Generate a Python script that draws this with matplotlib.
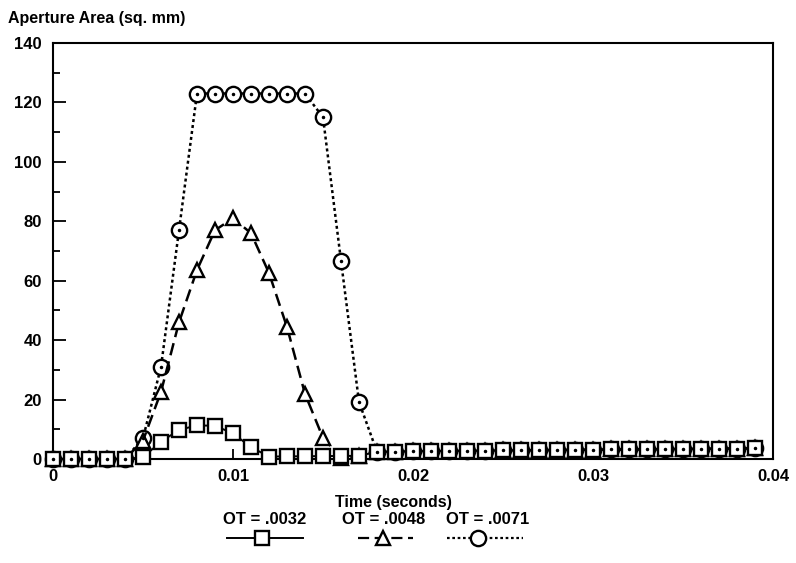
import numpy as np
import matplotlib
matplotlib.use("Agg")
import matplotlib.pyplot as plt
from matplotlib.lines import Line2D
from matplotlib.ticker import MultipleLocator

plt.rcParams['font.family'] = ['Liberation Sans', 'DejaVu Sans']
plt.rcParams['font.weight'] = 'bold'

# time in seconds, one sample per millisecond
time_s = [i / 1000 for i in range(40)]

# common tail (all three curves sit on top of each other after ~0.018 s)
tail = [2.4, 2.5, 2.6, 2.7, 2.7, 2.8, 2.8, 2.9, 2.9, 3.0, 3.0,
        3.1, 3.1, 3.2, 3.2, 3.3, 3.3, 3.4, 3.4, 3.5, 3.5, 3.6]

area_0032 = [0, 0, 0, 0, 0, 0.6, 5.8, 9.8, 11.3, 11.2, 8.6, 4.0,
             0.8, 0.9, 0.9, 1.0, 1.0, 1.1] + tail
area_0048 = [0, 0, 0, 0, 0, 6.2, 22.6, 46.0, 63.6, 77.0, 81.0, 76.0,
             62.6, 44.4, 21.9, 7.1, 0.5, 1.0] + tail
area_0071 = [0, 0, 0, 0, 0, 7.0, 31.0, 77.0, 123.0, 123.0, 123.0, 123.0,
             123.0, 123.0, 123.0, 115.0, 66.7, 19.2] + tail

labels = ['OT = .0032', 'OT = .0048', 'OT = .0071']
x_ticks = [0, 0.01, 0.02, 0.03, 0.04]
x_tick_labels = ['0', '0.01', '0.02', '0.03', '0.04']

fig = plt.figure(figsize=(7.96, 5.63), dpi=100)
ax = fig.add_axes([53 / 796, 1 - 459 / 563, 720 / 796, 416 / 563])

mk = dict(color='black', markerfacecolor='white', markeredgecolor='black',
          markeredgewidth=1.7)
ax.plot(time_s, area_0071, linestyle=(0, (1.2, 1.2)), lw=1.8, marker='o', ms=11,
        zorder=2, clip_on=False, **mk)
ax.plot(time_s, area_0048, linestyle=(0, (5, 2.5)), lw=1.8, marker='^', ms=10,
        zorder=3, clip_on=False, **mk)
ax.plot(time_s, area_0032, '-', lw=1.4, marker='s', ms=10, zorder=4,
        clip_on=False, **mk)
ax.plot(time_s, area_0071, linestyle='none', marker='.', ms=3, color='black',
        zorder=5, clip_on=False)

ax.set_xlim(0, 0.04)
ax.set_ylim(0, 140)
ax.set_xticks(x_ticks, x_tick_labels)
ax.yaxis.set_major_locator(MultipleLocator(20))
ax.yaxis.set_minor_locator(MultipleLocator(10))
ax.tick_params(axis='y', which='major', direction='in', length=9.5, width=1.3,
               labelsize=12, pad=8)
ax.tick_params(axis='y', which='minor', direction='in', length=5, width=1.3)
ax.tick_params(axis='x', which='major', direction='in', length=7, width=1.3,
               labelsize=12, pad=7)
for s in ax.spines.values():
    s.set_linewidth(1.5)

fig.text(8 / 796, 1 - 18 / 563, 'Aperture Area (sq. mm)', fontsize=11.5,
         va='center', ha='left')
fig.text(393 / 796, 1 - 502 / 563, 'Time (seconds)', fontsize=11.5,
         va='center', ha='center')

# legend: label above, line sample below
leg_text_x = [265, 384, 488]
leg_line = [(227, 303, 262), (358, 413, 383), (447, 523, 478)]
styles = [dict(linestyle='-', marker='s', ms=10, lw=1.4),
          dict(linestyle=(0, (5, 2.5)), marker='^', ms=10, lw=1.6),
          dict(linestyle=(0, (1.2, 1.2)), marker='o', ms=11, lw=1.6)]
for lab, tx, (x0, x1, xm), st in zip(labels, leg_text_x, leg_line, styles):
    fig.text(tx / 796, 1 - 520 / 563, lab, fontsize=12, ha='center', va='center')
    y = 1 - 538 / 563
    fig.add_artist(Line2D([x0 / 796, xm / 796, x1 / 796], [y, y, y],
                          markevery=[1], transform=fig.transFigure, **st, **mk))

fig.savefig('out.png', dpi=100)
